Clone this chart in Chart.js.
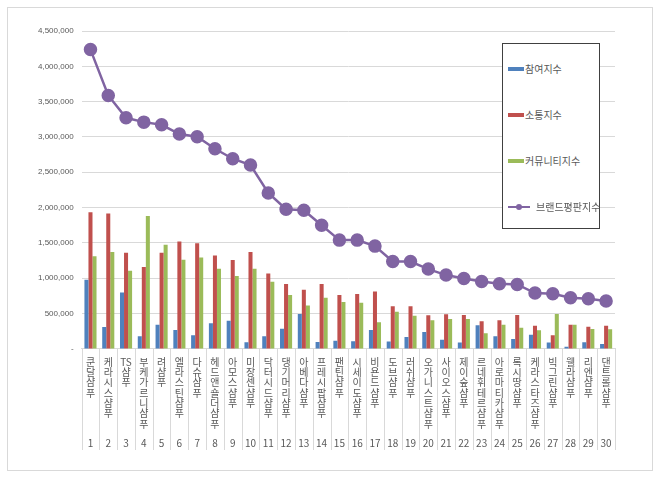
<!DOCTYPE html>
<html>
<head>
<meta charset="utf-8">
<script src="https://cdn.jsdelivr.net/npm/chart.js@4"></script>
<style>
  body { margin: 0; background: #fff; }
  #wrap { position: relative; width: 660px; height: 477px; }
  #frame { position: absolute; left: 7px; top: 7px; width: 646px; height: 464px; border: 1px solid #d9d9d9; box-sizing: border-box; pointer-events: none; }
  #legend { position: absolute; left: 502px; top: 43px; width: 98px; height: 186px; border: 1px solid #404040; background: #fff; box-sizing: border-box;
            font-family: "Noto Sans CJK KR", sans-serif; font-size: 10px; color: #595959; }
  .item { position: absolute; left: 5px; display: flex; align-items: center; white-space: nowrap; }
  .sw { display: inline-block; width: 16px; height: 4px; margin-right: 1px; }
  .ln { position: relative; display: inline-block; width: 22px; height: 2px; margin-right: 6px; }
  .ln i { position: absolute; left: 8px; top: -2px; width: 6px; height: 6px; border-radius: 50%; }
</style>
</head>
<body>
<div id="wrap">
  <canvas id="c" width="660" height="477"></canvas>
  <div id="frame"></div>
  <div id="legend"></div>
</div>
<script>
const brands = ["쿤달 샴푸", "케라시스 샴푸", "TS 샴푸", "부케가르니 샴푸", "려 샴푸", "엘라스틴 샴푸", "다슈 샴푸",
  "헤드앤숄더 샴푸", "아모스 샴푸", "미장센 샴푸", "닥터시드 샴푸", "댕기머리 샴푸", "아베다 샴푸", "프레시팝 샴푸",
  "팬틴 샴푸", "시세이도 샴푸", "비욘드 샴푸", "도브 샴푸", "러쉬 샴푸", "오가니스트 샴푸", "사이오스 샴푸",
  "제이숲 샴푸", "르네휘테르 샴푸", "아로마티카 샴푸", "록시땅 샴푸", "케라스타즈 샴푸", "빅그린 샴푸",
  "웰라 샴푸", "리엔 샴푸", "댄트롤 샴푸"];
const ranks = brands.map((b, i) => String(i + 1));

// 참여지수
const participation = [979000, 311000, 800000, 178000, 343000, 268000, 192000, 362000, 400000, 93000,
  178000, 287000, 494000, 99000, 117000, 108000, 268000, 103000, 169000, 240000,
  131000, 89000, 334000, 178000, 141000, 202000, 89000, 32000, 93000, 71000];
// 소통지수
const communication = [1935000, 1915000, 1360000, 1158000, 1360000, 1520000, 1497000, 1322000, 1257000, 1370000,
  1068000, 918000, 838000, 918000, 763000, 777000, 814000, 602000, 602000, 475000,
  489000, 480000, 390000, 404000, 480000, 329000, 192000, 343000, 315000, 329000];
// 커뮤니티지수
const community = [1313000, 1370000, 1106000, 1883000, 1473000, 1261000, 1294000, 1134000, 1031000, 1134000,
  951000, 763000, 616000, 724000, 664000, 654000, 376000, 527000, 470000, 404000,
  423000, 423000, 221000, 343000, 301000, 263000, 494000, 343000, 282000, 277000];
// 브랜드평판지수
const reputation = [4237000, 3588000, 3271000, 3210000, 3172000, 3041000, 3003000, 2833000, 2692000, 2603000,
  2208000, 1977000, 1963000, 1751000, 1540000, 1540000, 1455000, 1237000, 1237000, 1130000,
  1045000, 997000, 955000, 922000, 912000, 791000, 781000, 725000, 710000, 678000];

// 세로쓰기: 글자 하나씩 한 줄
function stack(name) {
  return name.split(" ").flatMap(w => /^[A-Z]+$/.test(w) ? [w] : w.split(""));
}

const font = "'Noto Sans CJK KR', 'Noto Sans', sans-serif";
const grey = "#d9d9d9";

// 카테고리 사이 세로 구분선 (축 아래 라벨 영역)
const separators = {
  id: "separators",
  afterDraw(chart) {
    const x = chart.scales.x, x2 = chart.scales.x2, ctx = chart.ctx;
    const n = x.ticks.length;
    ctx.save();
    ctx.strokeStyle = grey;
    ctx.lineWidth = 1;
    for (let i = 0; i <= n; i++) {
      let px;
      if (i === 0) px = x.left;
      else if (i === n) px = x.right;
      else px = (x.getPixelForValue(i - 1) + x.getPixelForValue(i)) / 2;
      px = Math.round(px) + 0.5;
      ctx.beginPath();
      ctx.moveTo(px, x.top);
      ctx.lineTo(px, x2.bottom + 1);
      ctx.stroke();
    }
    ctx.restore();
  }
};

const chart = new Chart(document.getElementById("c"), {
  type: "bar",
  data: {
    labels: brands.map(stack),
    datasets: [
      { type: "line", label: "브랜드평판지수", data: reputation, borderColor: "#8064a2", backgroundColor: "#8064a2",
        borderWidth: 2.5, pointRadius: 5.5, pointHoverRadius: 5.5, tension: 0, order: 0 },
      { label: "참여지수", data: participation, backgroundColor: "#4f81bd", order: 1 },
      { label: "소통지수", data: communication, backgroundColor: "#c0504d", order: 1 },
      { label: "커뮤니티지수", data: community, backgroundColor: "#9bbb59", order: 1 }
    ]
  },
  options: {
    responsive: false,
    animation: false,
    events: [],
    categoryPercentage: 0.68,
    barPercentage: 1.0,
    layout: { padding: { left: 30, right: 45, top: 31, bottom: 28 } },
    plugins: { legend: { display: false }, tooltip: { enabled: false } },
    scales: {
      x: {
        weight: 0,
        offset: true,
        grid: { display: false, drawTicks: false },
        border: { color: grey },
        ticks: { padding: 8, maxRotation: 0, autoSkip: false, color: "#595959",
                 font: { family: font, size: 10, lineHeight: 1.03 } }
      },
      x2: {
        type: "category",
        labels: ranks,
        position: "bottom",
        weight: 1,
        offset: true,
        grid: { display: false, drawTicks: false },
        border: { display: false },
        ticks: { padding: 0, maxRotation: 0, autoSkip: false, color: "#595959", font: { family: font, size: 10 } }
      },
      y: {
        min: 0, max: 4500000,
        ticks: { stepSize: 500000, color: "#595959", padding: 8, font: { family: "'Liberation Sans', sans-serif", size: 8 },
                 callback: v => v === 0 ? "-" : v.toLocaleString("en-US") },
        grid: { color: grey, drawTicks: false },
        border: { display: false }
      }
    }
  },
  plugins: [separators]
});

// 범례
const legend = document.getElementById("legend");
const order = [1, 2, 3, 0];
order.forEach((di, k) => {
  const ds = chart.data.datasets[di];
  const item = document.createElement("div");
  item.className = "item";
  item.style.top = (17 + k * 46) + "px";
  if (ds.type === "line") {
    item.innerHTML = `<span class="ln" style="background:${ds.borderColor}"><i style="background:${ds.borderColor}"></i></span>${ds.label}`;
  } else {
    item.innerHTML = `<span class="sw" style="background:${ds.backgroundColor}"></span>${ds.label}`;
  }
  legend.appendChild(item);
});
</script>
</body>
</html>
